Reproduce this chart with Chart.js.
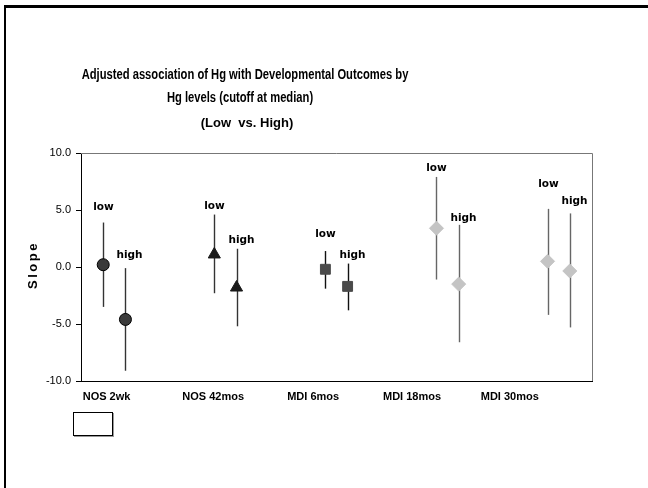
<!DOCTYPE html>
<html>
<head>
<meta charset="utf-8">
<script src="https://cdn.jsdelivr.net/npm/chart.js@4/dist/chart.umd.min.js"></script>
<style>
  html, body { margin: 0; padding: 0; background: #fff; }
  #wrap { width: 648px; height: 488px; }
</style>
</head>
<body>
<div id="wrap"><canvas id="slopeChart" width="648" height="488"></canvas></div>
<script>
// categories and where their labels sit under the axis
const categories = ["NOS 2wk", "NOS 42mos", "MDI 6mos", "MDI 18mos", "MDI 30mos"];
const tickX = [1.03, 1.99, 2.89, 3.78, 4.66];

// x positions of the low / high estimates
const lowX = [1, 2, 3, 4, 5];
const highX = [1.2, 2.2, 3.2, 4.2, 5.2];

// slope estimates with their intervals
const lowSlope = [0.2, 1.1, -0.2, 3.4, 0.5];
const lowLower = [-3.5, -2.3, -1.9, -1.1, -4.2];
const lowUpper = [3.9, 4.6, 1.4, 7.9, 5.1];
const highSlope = [-4.6, -1.8, -1.7, -1.5, -0.35];
const highLower = [-9.1, -5.2, -3.8, -6.6, -5.3];
const highUpper = [-0.1, 1.6, 0.3, 3.7, 4.7];

// where the "low" / "high" annotations sit (y in slope units)
const lowLabelY = [5.26, 5.3, 2.9, 8.66, 7.25];
const highLabelY = [1.0, 2.37, 1.0, 4.27, 5.73];

const yTicks = [-10, -5, 0, 5, 10];

const arial = "'Liberation Sans', Arial, sans-serif";

const markerStyle = ["circle", "triangle", "rect", "rectRot", "rectRot"];
const markerFill = ["#3a3a3a", "#1a1a1a", "#4a4a4a", "#c4c4c4", "#c4c4c4"];
const markerBorder = ["#000", "#1a1a1a", "#4a4a4a", "#c4c4c4", "#c4c4c4"];
const markerSize = [6, 7, 7, 7, 7];
const barColor = ["#333", "#333", "#111", "#666", "#666"];

const datasets = categories.map((c, i) => ({
  label: c,
  data: [
    { x: lowX[i], y: lowSlope[i], lo: lowLower[i], hi: lowUpper[i], tag: "low", ty: lowLabelY[i] },
    { x: highX[i], y: highSlope[i], lo: highLower[i], hi: highUpper[i], tag: "high", ty: highLabelY[i] }
  ],
  pointStyle: markerStyle[i],
  pointRadius: markerSize[i],
  pointHoverRadius: markerSize[i],
  backgroundColor: markerFill[i],
  borderColor: markerBorder[i],
  borderWidth: 1,
  showLine: false,
  barColor: barColor[i]
}));

const errorBars = {
  id: "errorBars",
  beforeDatasetsDraw(chart) {
    const ctx = chart.ctx;
    const xs = chart.scales.x, ys = chart.scales.y;
    ctx.save();
    chart.data.datasets.forEach(ds => {
      ds.data.forEach(p => {
        const px = Math.round(xs.getPixelForValue(p.x)) + 0.5;
        ctx.strokeStyle = ds.barColor;
        ctx.lineWidth = 1.4;
        ctx.beginPath();
        ctx.moveTo(px, ys.getPixelForValue(p.hi));
        ctx.lineTo(px, ys.getPixelForValue(p.lo));
        ctx.stroke();
        // low / high tags
        ctx.fillStyle = "#000";
        ctx.font = "bold 10.5px 'DejaVu Sans', sans-serif";
        ctx.textAlign = "center";
        ctx.textBaseline = "middle";
        const off = p.tag === "high" ? 4 : 0;
        ctx.fillText(p.tag, px + off, ys.getPixelForValue(p.ty));
      });
    });
    ctx.restore();
  }
};

// condensed bold text (the original uses a narrow face)
function narrowText(ctx, text, cx, cy, size, squeeze) {
  ctx.save();
  ctx.translate(cx, cy);
  ctx.scale(squeeze, 1);
  ctx.font = "bold " + size + "px " + arial;
  ctx.fillText(text, 0, 0);
  ctx.restore();
}

const decorations = {
  id: "decorations",
  beforeDraw(chart) {
    const ctx = chart.ctx;
    ctx.save();
    ctx.fillStyle = "#fff";
    ctx.fillRect(0, 0, chart.width, chart.height);
    // page frame (top and left)
    ctx.fillStyle = "#000";
    ctx.fillRect(4, 5, chart.width - 4, 3);
    ctx.fillRect(4, 5, 2, chart.height - 5);
    ctx.restore();
  },
  afterDraw(chart) {
    const ctx = chart.ctx;
    const a = chart.chartArea;
    ctx.save();
    // plot frame top / right
    ctx.strokeStyle = "#777";
    ctx.lineWidth = 1;
    ctx.beginPath();
    ctx.moveTo(a.left, a.top + 0.5);
    ctx.lineTo(a.right + 0.5, a.top + 0.5);
    ctx.lineTo(a.right + 0.5, a.bottom);
    ctx.stroke();

    // titles
    ctx.fillStyle = "#000";
    ctx.textAlign = "center";
    ctx.textBaseline = "middle";
    narrowText(ctx, "Adjusted association of Hg with Developmental Outcomes by", 245, 75, 14, 0.8);
    narrowText(ctx, "Hg levels (cutoff at median)", 240, 98, 14, 0.8);
    ctx.font = "bold 13px " + arial;
    ctx.fillText("(Low  vs. High)", 247, 123);

    // y axis title
    ctx.save();
    ctx.translate(33, 266);
    ctx.rotate(-Math.PI / 2);
    ctx.font = "bold 13px " + arial;
    ctx.letterSpacing = "2.5px";
    ctx.fillText("Slope", 1, 0);
    ctx.restore();

    // empty legend box
    ctx.fillStyle = "#999";
    ctx.fillRect(74, 413, 40, 24);
    ctx.fillStyle = "#fff";
    ctx.fillRect(73, 412, 40, 24);
    ctx.strokeStyle = "#000";
    ctx.strokeRect(73.5, 412.5, 39, 23);
    ctx.restore();
  }
};

new Chart(document.getElementById("slopeChart"), {
  type: "scatter",
  data: { datasets },
  options: {
    responsive: false,
    animation: false,
    layout: { padding: { left: 0, top: 153, right: 56, bottom: 0 } },
    plugins: { legend: { display: false }, title: { display: false }, tooltip: { enabled: false } },
    scales: {
      x: {
        type: "linear",
        min: 0.8,
        max: 5.4,
        afterFit: s => { s.height = 107; },
        afterBuildTicks: s => { s.ticks = tickX.map(v => ({ value: v })); },
        grid: { drawOnChartArea: false, drawTicks: false },
        border: { display: true, color: "#000", width: 1 },
        ticks: {
          autoSkip: false,
          maxRotation: 0,
          padding: 9,
          color: "#000",
          font: { family: arial, size: 11, weight: "bold" },
          callback: (v, i) => categories[i]
        }
      },
      y: {
        min: -10,
        max: 10,
        afterFit: s => { s.width = 81; },
        afterBuildTicks: s => { s.ticks = yTicks.map(v => ({ value: v })); },
        grid: { drawOnChartArea: false, drawTicks: true, tickLength: 5, color: "#000" },
        border: { display: true, color: "#000", width: 1 },
        ticks: {
          padding: 5,
          color: "#000",
          font: { family: arial, size: 11 },
          callback: v => v.toFixed(1)
        }
      }
    }
  },
  plugins: [decorations, errorBars]
});
</script>
</body>
</html>
